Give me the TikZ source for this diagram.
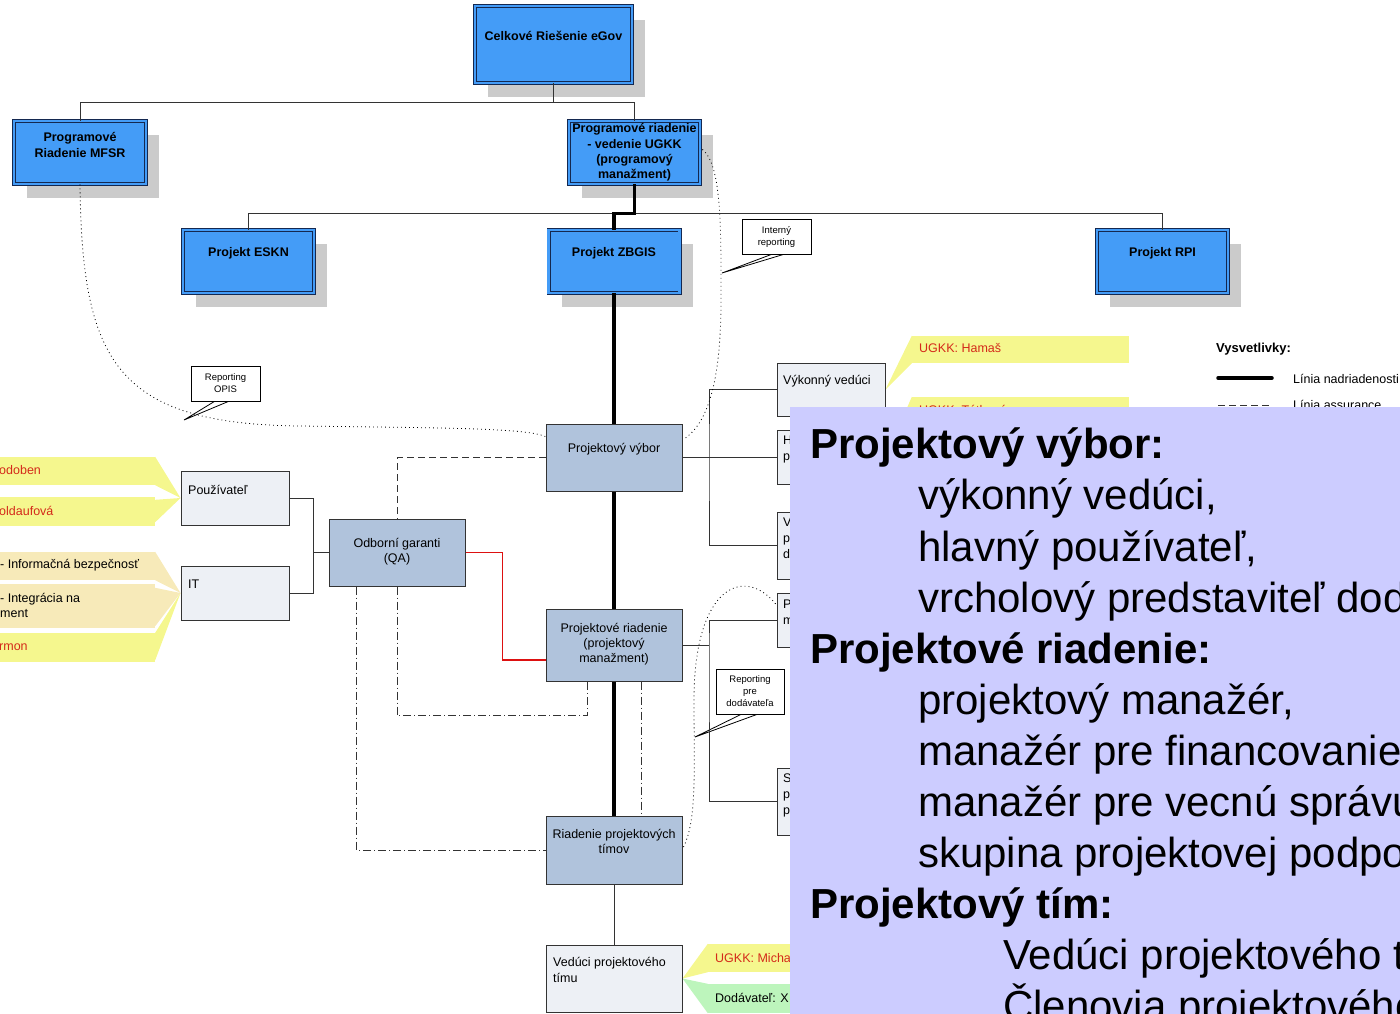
\documentclass[tikz,border=0pt]{standalone}
\usepackage{fontspec}
\setmainfont{Liberation Sans}
\usetikzlibrary{calc,shadows}
\pgfdeclarelayer{bg}
\pgfsetlayers{bg,main}
\definecolor{boxblue}{HTML}{449CF7}
\definecolor{navy}{HTML}{142850}
\definecolor{steel}{HTML}{B0C3DC}
\definecolor{pale}{HTML}{EDF0F5}
\definecolor{shade}{HTML}{CBCBCB}
\definecolor{callyel}{HTML}{F5F78E}
\definecolor{callbei}{HTML}{F7EAB9}
\definecolor{callgrn}{HTML}{BDF5BC}
\definecolor{redtxt}{HTML}{D42A1A}
\definecolor{redln}{HTML}{DD1111}
\definecolor{ovlcol}{HTML}{CCCCFF}
\definecolor{linegray}{HTML}{333333}
\begin{document}
\begin{tikzpicture}[x=1pt,y=-1pt,
  bluebox/.style={draw=navy, line width=0.9pt, double=boxblue, double distance=2.2pt, fill=boxblue, inner sep=0pt,
    drop shadow={shadow xshift=13pt, shadow yshift=-14pt, fill=shade, opacity=1}},
  btxt/.style={font=\fontsize{12.5}{15.3}\selectfont\bfseries, align=center, inner sep=0pt},
  steelbox/.style={draw=linegray, line width=1pt, fill=steel, inner sep=0pt},
  palebox/.style={draw=linegray, line width=1pt, fill=pale, inner sep=0pt},
  ntxt/.style={font=\fontsize{12.5}{15.3}\selectfont, align=center, inner sep=0pt},
  ltxt/.style={font=\fontsize{12.5}{16}\selectfont, align=left, anchor=west, inner sep=0pt},
  conn/.style={draw=linegray, line width=1pt},
  boss/.style={draw=black, line width=3.5pt},
  assure/.style={draw=linegray, line width=1pt, dash pattern=on 7pt off 4pt},
  dashdot/.style={draw=linegray, line width=1pt, dash pattern=on 8pt off 3pt on 1pt off 3pt},
  report/.style={draw=black, line width=0.8pt, dash pattern=on 0.9pt off 3.1pt},
  qaline/.style={draw=redln, line width=1.5pt},
  callout/.style={draw=black, line width=0.8pt, fill=white, inner sep=0pt},
  stxt/.style={font=\fontsize{9.5}{12}\selectfont, align=center},
  ycall/.style={fill=callyel, inner sep=0pt},
  bcall/.style={fill=callbei, inner sep=0pt},
  gcall/.style={fill=callgrn, inner sep=0pt},
  ctxt/.style={font=\fontsize{12.5}{15.5}\selectfont, anchor=west, inner sep=0pt, align=left},
  bigb/.style={font=\fontsize{42}{51}\selectfont\bfseries, anchor=base west, inner sep=0pt},
  bigr/.style={font=\fontsize{42}{51}\selectfont, anchor=base west, inner sep=0pt}
]
\useasboundingbox (0,0) rectangle (1400,1013);

% ---------- blue boxes ----------
\node[bluebox, minimum width=157pt, minimum height=77pt] (celk) at (553.5,44.5) {};
\node[btxt] (celkt) at ($(celk)+(0,-8.5)$) {Celkové Riešenie eGov};
\node[bluebox, minimum width=132pt, minimum height=63pt] (mfsr) at (80,152.5) {};
\node[btxt] (mfsrt) at ($(mfsr)+(0,-7.5)$) {Programové\\Riadenie MFSR};
\node[bluebox, minimum width=131pt, minimum height=63pt] (ugkk) at (634.5,152.5) {};
\node[btxt] (ugkkt) at ($(ugkk)+(0,0)$) {Programové riadenie\\- vedenie UGKK\\(programový\\manažment)};
\node[bluebox, minimum width=131pt, minimum height=63pt] (eskn) at (248.5,261.5) {};
\node[btxt] (esknt) at ($(eskn)+(0,-8.5)$) {Projekt ESKN};
\node[bluebox, minimum width=131pt, minimum height=63pt] (zbgis) at (614,261.5) {};
\node[btxt] (zbgist) at ($(zbgis)+(0,-8.5)$) {Projekt ZBGIS};
\node[bluebox, minimum width=131pt, minimum height=63pt] (rpi) at (1162.5,261.5) {};
\node[btxt] (rpit) at ($(rpi)+(0,-8.5)$) {Projekt RPI};

% ---------- steel boxes ----------
\node[steelbox, minimum width=136pt, minimum height=67pt] (vybor) at (614,457.5) {};
\node[ntxt] (vybort) at ($(vybor)+(0,-8.5)$) {Projektový výbor};
\node[steelbox, minimum width=136pt, minimum height=67pt] (qa) at (397,552.5) {};
\node[ntxt] (qat) at ($(qa)+(0,-1)$) {Odborní garanti\\(QA)};
\node[steelbox, minimum width=136pt, minimum height=72pt] (priad) at (614,645) {};
\node[ntxt] (priadt) at ($(priad)+(0,-1)$) {Projektové riadenie\\(projektový\\manažment)};
\node[steelbox, minimum width=136pt, minimum height=68pt] (timy) at (614,850) {};
\node[ntxt] (timyt) at ($(timy)+(0,-8.5)$) {Riadenie projektových\\tímov};

% ---------- pale boxes ----------
\node[palebox, minimum width=108pt, minimum height=54pt] (pouz) at (235,498) {};
\node[ltxt] (pouzt) at (188,490) {Používateľ};
\node[palebox, minimum width=108pt, minimum height=54pt] (it) at (235,593) {};
\node[ltxt] (itt) at (188,584) {IT};
\node[palebox, minimum width=136pt, minimum height=67pt] (veduci) at (614,978.5) {};
\node[ltxt] (veducit) at (553,970) {Vedúci projektového\\tímu};
\node[palebox, minimum width=108pt, minimum height=53pt] (vyk) at (831,389.5) {};
\node[ltxt] (vykt) at (783,381) {Výkonný vedúci};
\node[palebox, minimum width=108pt, minimum height=54pt] (hlav) at (831,457.5) {};
\node[ltxt] (hlavt) at (783,449.5) {H\\p};
\node[palebox, minimum width=108pt, minimum height=67pt] (vrch) at (831,545.5) {};
\node[ltxt] (vrcht) at (783,538) {V\\p\\d};
\node[palebox, minimum width=108pt, minimum height=54pt] (pman) at (831,620) {};
\node[ltxt] (pmant) at (783,612) {P\\m};
\node[palebox, minimum width=108pt, minimum height=67pt] (skup) at (831,801.5) {};
\node[ltxt] (skupt) at (783,795) {S\\p\\p};

% ---------- hierarchy connectors ----------
\coordinate (j1) at ($(celk.south)+(0,19)$);
\draw[conn] (celk.south) -- (j1) -| (mfsr.north);
\draw[conn] (j1) -| (ugkk.north);
\coordinate (j2) at ($(ugkk.south)+(0,29)$);
\draw[conn] (j2) -| (eskn.north);
\draw[conn] (j2) -| (rpi.north);
\draw[boss] (ugkk.south) -- (j2) -| (zbgis.north);
\draw[boss] (zbgis.south) -- (vybor.north);
\draw[boss] (vybor.south) -- (priad.north);
\draw[boss] (priad.south) -- (timy.north);
\draw[conn] (timy.south) -- (veduci.north);

\coordinate (bus) at (313,552.5);
\draw[conn] (pouz.east) -| (bus) -- (qa.west);
\draw[conn] (it.east) -| (bus);

\coordinate (rb1) at (709,457.5);
\draw[conn] (vybor.east) -- (hlav.west);
\draw[conn] (vyk.west) -| (rb1) |- (vrch.west);
\coordinate (rb2) at (709,645);
\draw[conn] (priad.east) -- (rb2);
\draw[conn] (pman.west) -| (rb2) |- (skup.west);

% ---------- assurance lines ----------
\draw[assure] (vybor.west) -| (qa.north);
\draw[dashdot] (qa.south) |- ($(priad.south)+(-27,34)$) -- ($(priad.south)+(-27,0)$);
\draw[dashdot] ($(qa.south west)+(28,0)$) |- (timy.west);
\draw[dashdot] ($(priad.south)+(27,0)$) -- ($(timy.north)+(27,0)$);
\draw[qaline] (qa.east) -- ++(37,0) |- ($(priad.west)+(0,15)$);

% ---------- reporting curves ----------
\draw[report] (mfsr.south) .. controls (82,360) and (115,424) .. (300,426) .. controls (450,428) and (525,428) .. ($(vybor.north west)+(0,13)$);
\draw[report] ($(ugkk.east)+(2,-3)$) .. controls (722,165) and (721,230) .. (721,300) .. controls (721,390) and (705,425) .. ($(vybor.east)+(1,-18)$);
\draw[report] ($(timy.east)+(1,-3)$) .. controls (697,820) and (694,770) .. (694,700) .. controls (694,585) and (745,565) .. ($(pman.west)+(0,-15)$);

% ---------- reporting callouts ----------
\node[callout, stxt, minimum width=69pt, minimum height=35pt] (rep1) at (776.5,236.5) {Interný\\reporting};
\node[callout, stxt, minimum width=69pt, minimum height=35pt] (rep2) at (225.5,383.5) {Reporting\\OPIS};
\node[callout, stxt, minimum width=68pt, minimum height=45pt] (rep3) at (750,691.5) {Reporting\\pre\\dodávateľa};
\coordinate (rep1tip) at (722,273);
\coordinate (rep2tip) at (184,420);
\coordinate (rep3tip) at (695,737);
\begin{pgfonlayer}{bg}
\draw[callout] ($(rep1.south)+(-5,0)$) -- (rep1tip) -- ($(rep1.south)+(7,0)$);
\draw[callout] ($(rep2.south)+(-11,0)$) -- (rep2tip) -- ($(rep2.south)+(3,0)$);
\draw[callout] ($(rep3.south)+(-9,0)$) -- (rep3tip) -- ($(rep3.south)+(7,0)$);
\end{pgfonlayer}

% ---------- name callouts ----------
\node[ycall, minimum width=170pt, minimum height=28pt] (cl1) at (70,471) {};
\node[ctxt, text=redtxt] (cl1t) at (-1,470) {odoben};
\node[ycall, minimum width=170pt, minimum height=29pt] (cl2) at (70,511.5) {};
\node[ctxt, text=redtxt] (cl2t) at (-1,511) {oldaufová};
\node[bcall, minimum width=170pt, minimum height=28pt] (cl3) at (70,566) {};
\node[ctxt] (cl3t) at (0,565) {- Informačná bezpečnosť};
\node[bcall, minimum width=170pt, minimum height=44pt] (cl4) at (70,606) {};
\node[ctxt] (cl4t) at (0,605.5) {- Integrácia na\\ment};
\node[ycall, minimum width=170pt, minimum height=29pt] (cl5) at (70,647.5) {};
\node[ctxt, text=redtxt] (cl5t) at (-1,647) {rmon};
\node[ycall, minimum width=217pt, minimum height=27pt] (rc1) at (1020.5,349.5) {};
\node[ctxt, text=redtxt] (rc1t) at (919,348) {UGKK: Hamaš};
\node[ycall, minimum width=217pt, minimum height=28pt] (rc2) at (1020.5,411) {};
\node[ctxt, text=redtxt] (rc2t) at (919,410) {UGKK: Tóthová};
\node[ycall, minimum width=92pt, minimum height=28pt] (bc1) at (754,958) {};
\node[ctxt, text=redtxt] (bc1t) at (715,958) {UGKK: Micha};
\node[gcall, minimum width=92pt, minimum height=29pt] (bc2) at (754,998.5) {};
\node[ctxt] (bc2t) at (715,998) {Dodávateľ: X};
\begin{pgfonlayer}{bg}
\fill[callyel] (cl1.north east) -- (pouz.west) -- (cl1.south east) -- cycle;
\fill[callyel] ($(cl2.north east)+(0,3)$) -- (pouz.west) -- ($(cl2.south east)+(0,-4)$) -- cycle;
\fill[callbei] (cl3.north east) -- (it.west) -- (cl3.south east) -- cycle;
\fill[callbei] ($(cl4.north east)+(0,4)$) -- (it.west) -- ($(cl4.south east)+(0,-2)$) -- cycle;
\fill[callyel] (cl5.north east) -- (it.west) -- ($(cl5.south east)+(0,-2)$) -- cycle;
\fill[callyel] (rc1.north west) -- (vyk.east) -- (rc1.south west) -- cycle;
\fill[callyel] (rc2.north west) -- (hlav.east) -- (rc2.south west) -- cycle;
\fill[callyel] (bc1.north west) -- (veduci.east) -- (bc1.south west) -- cycle;
\fill[callgrn] (bc2.north west) -- (veduci.east) -- (bc2.south west) -- cycle;
\end{pgfonlayer}

% ---------- legend ----------
\node[font=\fontsize{13}{15}\selectfont\bfseries, anchor=west, inner sep=0pt] (legt) at (1216,349) {Vysvetlivky:};
\coordinate (lg1a) at (1218,378);
\coordinate (lg1b) at (1272,378);
\draw[boss, line cap=round] (lg1a) -- (lg1b);
\node[ctxt] (lg1t) at (1293,379) {Línia nadriadenosti};
\coordinate (lg2a) at (1218,405);
\coordinate (lg2b) at (1270,405);
\draw[assure] (lg2a) -- (lg2b);
\node[ctxt] (lg2t) at (1293,405) {Línia assurance};

% ---------- overlay ----------
\node[fill=ovlcol, inner sep=0pt, minimum width=620pt, minimum height=616pt, anchor=north west] (ovl) at (790,407) {};
\begin{scope}
\clip (ovl.north west) rectangle (ovl.south east);
\node[bigb] (o1) at (810,458) {Projektový výbor:};
\node[bigr] (o2) at (918,509.5) {výkonný vedúci,};
\node[bigr] (o3) at (918,561) {hlavný používateľ,};
\node[bigr] (o4) at (918,612) {vrcholový predstaviteľ dodávateľa};
\node[bigb] (o5) at (810,663) {Projektové riadenie:};
\node[bigr] (o6) at (918,714) {projektový manažér,};
\node[bigr] (o7) at (918,765) {manažér pre financovanie,};
\node[bigr] (o8) at (918,816) {manažér pre vecnú správu,};
\node[bigr] (o9) at (918,867) {skupina projektovej podpory};
\node[bigb] (o10) at (810,918) {Projektový tím:};
\node[bigr] (o11) at (1003,969) {Vedúci projektového tímu,};
\node[bigr] (o12) at (1003,1020) {Členovia projektového tímu};
\end{scope}
\end{tikzpicture}
\end{document}
